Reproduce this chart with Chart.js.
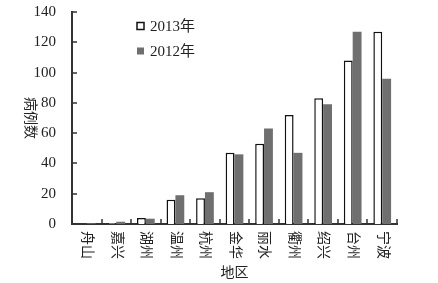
<!DOCTYPE html>
<html lang="zh">
<head>
<meta charset="utf-8">
<title>病例数 - 地区</title>
<script src="https://cdn.jsdelivr.net/npm/chart.js@4/dist/chart.umd.min.js"></script>
<style>
  html, body { margin: 0; padding: 0; background: #fff; }
  #wrap { width: 438px; height: 283px; position: relative; }
</style>
</head>
<body>
<div id="wrap"><canvas id="c"></canvas></div>
<script>
const regions = ['舟山', '嘉兴', '湖州', '温州', '杭州', '金华', '丽水', '衢州', '绍兴', '台州', '宁波'];
const cases2013 = [0, 0.5, 4, 16, 17, 47, 53, 72, 83, 108, 127];
const cases2012 = [0.5, 1.5, 3.5, 19, 21, 46, 63, 47, 79, 127, 96];
const yTicks = [0, 20, 40, 60, 80, 100, 120, 140];

const serif = '"Liberation Serif", "Times New Roman", "Noto Sans CJK SC", serif';

// inner ticks, x labels, y title, x title and legend drawn by hand
const textPlugin = {
  id: 'texts',
  afterDraw(chart) {
    const ctx = chart.ctx;
    const xs = chart.scales.x, ys = chart.scales.y;
    const area = chart.chartArea;
    ctx.save();
    // inward tick marks
    ctx.strokeStyle = '#333';
    ctx.lineWidth = 1.5;
    ctx.beginPath();
    const w = (area.right - area.left) / regions.length;
    for (let k = 1; k <= regions.length; k++) {
      const x = Math.round(area.left + k * w);
      ctx.moveTo(x, area.bottom);
      ctx.lineTo(x, area.bottom - 5);
    }
    yTicks.forEach(function (v) {
      const y = Math.round(ys.getPixelForValue(v));
      ctx.moveTo(area.left, y);
      ctx.lineTo(area.left + 5, y);
    });
    ctx.stroke();

    ctx.fillStyle = '#222';
    ctx.font = '14px ' + serif;
    ctx.textAlign = 'left';
    ctx.textBaseline = 'middle';
    regions.forEach(function (r, i) {
      ctx.save();
      ctx.translate(xs.getPixelForTick(i), area.bottom + 7);
      ctx.rotate(Math.PI / 2);
      ctx.fillText(r, 0, 0);
      ctx.restore();
    });
    // y title
    ctx.save();
    ctx.textAlign = 'center';
    ctx.translate(30, (area.top + area.bottom) / 2);
    ctx.rotate(Math.PI / 2);
    ctx.fillText('病例数', 0, 0);
    ctx.restore();
    // x title
    ctx.textAlign = 'center';
    ctx.fillText('地区', (area.left + area.right) / 2, area.bottom + 49);
    // legend
    ctx.font = '15px ' + serif;
    ctx.textAlign = 'left';
    chart.data.datasets.forEach(function (ds, i) {
      const lx = area.left + 65, ly = area.top + 14 + i * 25;
      ctx.fillStyle = ds.backgroundColor;
      ctx.fillRect(lx, ly - 3.5, 7, 7);
      if (ds.borderWidth) {
        ctx.strokeStyle = ds.borderColor;
        ctx.lineWidth = 1.5;
        ctx.strokeRect(lx, ly - 3.5, 7, 7);
      }
      ctx.fillStyle = '#222';
      ctx.fillText(ds.label, lx + 13, ly + 1);
    });
    ctx.restore();
  }
};

new Chart(document.getElementById('c'), {
  type: 'bar',
  data: {
    labels: regions,
    datasets: [{
      label: '2013年',
      data: cases2013,
      backgroundColor: '#ffffff',
      borderColor: '#111111',
      borderWidth: 1.5,
      borderSkipped: 'bottom',
      categoryPercentage: 0.6,
      barPercentage: 1.0
    }, {
      label: '2012年',
      data: cases2012,
      backgroundColor: '#6f6f6f',
      borderWidth: 0,
      categoryPercentage: 0.6,
      barPercentage: 1.0
    }]
  },
  options: {
    responsive: true,
    maintainAspectRatio: false,
    animation: false,
    layout: { padding: { top: 12, right: 41, left: 0, bottom: 0 } },
    plugins: {
      legend: { display: false },
      tooltip: { enabled: false }
    },
    scales: {
      x: {
        afterFit(s) { s.height = 59; s.paddingLeft = 0; s.paddingRight = 0; },
        ticks: { display: false },
        grid: { display: false },
        border: { color: '#333', width: 2 }
      },
      y: {
        min: 0,
        max: 140,
        afterFit(s) { s.width = 72; s.paddingTop = 0; s.paddingBottom = 0; },
        afterBuildTicks(s) { s.ticks = yTicks.map(function (v) { return { value: v }; }); },
        ticks: {
          color: '#222',
          padding: 8,
          font: { family: serif, size: 15 }
        },
        grid: { display: false },
        border: { color: '#333', width: 2 }
      }
    }
  },
  plugins: [textPlugin]
});
</script>
</body>
</html>
